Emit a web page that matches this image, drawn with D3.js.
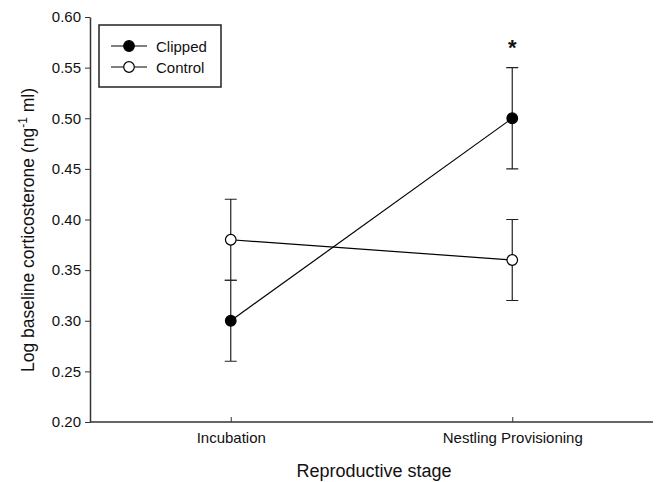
<!DOCTYPE html>
<html>
<head>
<meta charset="utf-8">
<script src="https://cdn.jsdelivr.net/npm/d3@7"></script>
<style>
  body { margin: 0; background: #fff; }
  text { font-family: Arial, "Liberation Sans", sans-serif; fill: #111; }
</style>
</head>
<body>
<script>
// data
var stages = ['Incubation', 'Nestling Provisioning'];
var clippedMean = [0.30, 0.50];
var clippedErr = [0.04, 0.05];
var controlMean = [0.38, 0.36];
var controlErr = [0.04, 0.04];
var yTicks = [0.20, 0.25, 0.30, 0.35, 0.40, 0.45, 0.50, 0.55, 0.60];

var series = [
    {name: 'Clipped', mean: clippedMean, err: clippedErr, fill: '#000'}
    , {name: 'Control', mean: controlMean, err: controlErr, fill: '#fff'}
];

var width = 659, height = 482;
var plotLeft = 90, plotRight = 653, plotTop = 17, plotBottom = 422;

var svg = d3.select('body').append('svg')
    .attr('width', width)
    .attr('height', height);

var x = d3.scalePoint().domain(stages).range([plotLeft, plotRight]).padding(0.5);
var y = d3.scaleLinear().domain([0.2, 0.6]).range([plotBottom, plotTop]);

// axes
var yAxis = svg.append('g')
    .attr('transform', 'translate(' + plotLeft + ',0)')
    .call(d3.axisLeft(y).tickValues(yTicks).tickFormat(d3.format('.2f')).tickSize(5).tickSizeOuter(0));
yAxis.selectAll('text').style('font-size', '15px').attr('x', -9);

var xAxis = svg.append('g')
    .attr('transform', 'translate(0,' + plotBottom + ')')
    .call(d3.axisBottom(x).tickSize(-5).tickSizeOuter(0));
xAxis.selectAll('text').style('font-size', '15px').attr('y', 10);
xAxis.select('.domain').attr('d', 'M' + plotLeft + ',0H' + plotRight);

svg.selectAll('.domain').style('stroke', '#333').style('stroke-width', 1.5);
svg.selectAll('.tick line').style('stroke', '#333');

// axis titles
svg.append('text')
    .attr('x', 374).attr('y', 477)
    .attr('text-anchor', 'middle')
    .style('font-size', '18px')
    .text('Reproductive stage');

var yt = svg.append('text')
    .attr('transform', 'translate(34,230) rotate(-90)')
    .attr('text-anchor', 'middle')
    .style('font-size', '17.5px');
yt.append('tspan').text('Log baseline corticosterone (ng');
yt.append('tspan').attr('dy', -7).style('font-size', '12px').text('-1');
yt.append('tspan').attr('dy', 7).text(' ml)');

// lines
var line = d3.line()
    .x(function(d, i) {return x(stages[i]);})
    .y(function(d) {return y(d);});

series.forEach(function(s) {
    svg.append('path')
        .attr('d', line(s.mean))
        .style('fill', 'none')
        .style('stroke', '#000')
        .style('stroke-width', 1.2);

    var g = svg.append('g');
    s.mean.forEach(function(m, i) {
        var cx = x(stages[i]);
        var lo = y(m - s.err[i]), hi = y(m + s.err[i]);
        g.append('path')
            .attr('d', 'M' + cx + ',' + lo + 'V' + hi
                + 'M' + (cx - 6) + ',' + lo + 'H' + (cx + 6)
                + 'M' + (cx - 6) + ',' + hi + 'H' + (cx + 6))
            .style('stroke', '#222')
            .style('stroke-width', 1.2)
            .style('fill', 'none');
    });
});

series.forEach(function(s) {
    svg.append('g').selectAll('circle')
        .data(s.mean)
        .enter()
        .append('circle')
        .attr('cx', function(d, i) {return x(stages[i]);})
        .attr('cy', function(d) {return y(d);})
        .attr('r', 5.3)
        .style('fill', s.fill)
        .style('stroke', '#000')
        .style('stroke-width', 1.2);
});

// significance marker
svg.append('text')
    .attr('x', x(stages[1]))
    .attr('y', y(clippedMean[1] + clippedErr[1]) - 13)
    .attr('text-anchor', 'middle')
    .style('font-size', '22px')
    .style('font-weight', 'bold')
    .text('*');

// legend
var legend = svg.append('g');
legend.append('rect')
    .attr('x', 99).attr('y', 25)
    .attr('width', 122).attr('height', 62)
    .style('fill', 'none')
    .style('stroke', '#222')
    .style('stroke-width', 1.5);

var items = legend.selectAll('.item')
    .data(series)
    .enter()
    .append('g')
    .attr('class', 'item')
    .attr('transform', function(d, i) {return 'translate(0,' + (46 + i * 21) + ')';});
items.append('line')
    .attr('x1', 111).attr('x2', 147)
    .style('stroke', '#000').style('stroke-width', 1.2);
items.append('circle')
    .attr('cx', 129).attr('r', 5.3)
    .style('fill', function(d) {return d.fill;})
    .style('stroke', '#000').style('stroke-width', 1.2);
items.append('text')
    .attr('x', 156).attr('y', 5.5)
    .style('font-size', '15px')
    .text(function(d) {return d.name;});
</script>
</body>
</html>
